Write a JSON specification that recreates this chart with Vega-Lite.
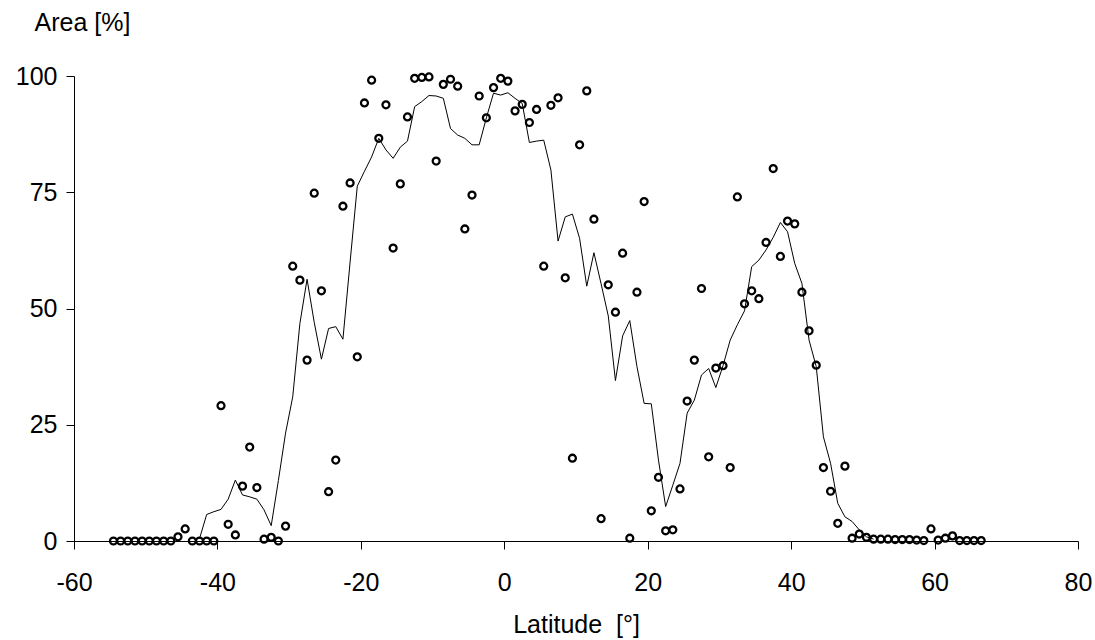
{
  "$schema": "https://vega.github.io/schema/vega-lite/v6.json",
  "width": 1004,
  "height": 465,
  "autosize": {"type": "none"},
  "padding": {"left": 74, "top": 76, "right": 17, "bottom": 99},
  "background": "white",
  "config": {
    "view": {"stroke": null},
    "font": "Liberation Sans",
    "axis": {"grid": false, "domainColor": "black", "tickColor": "black", "domainWidth": 1, "tickWidth": 1, "tickSize": 8, "labelFontSize": 25, "labelColor": "black", "titleFontSize": 25, "titleFontWeight": "normal", "titleColor": "black", "labelFont": "Liberation Sans", "titleFont": "Liberation Sans"}
  },
  "datasets": {
    "pts": [
      {"lat": -54.5, "area": 0}, {"lat": -53.5, "area": 0}, {"lat": -52.5, "area": 0}, {"lat": -51.5, "area": 0},
      {"lat": -50.5, "area": 0}, {"lat": -49.5, "area": 0}, {"lat": -48.5, "area": 0}, {"lat": -47.5, "area": 0},
      {"lat": -46.5, "area": 0}, {"lat": -45.5, "area": 0.9}, {"lat": -44.5, "area": 2.6}, {"lat": -43.5, "area": 0},
      {"lat": -42.5, "area": 0}, {"lat": -41.5, "area": 0}, {"lat": -40.5, "area": 0}, {"lat": -39.5, "area": 29.1},
      {"lat": -38.5, "area": 3.6}, {"lat": -37.5, "area": 1.3}, {"lat": -36.5, "area": 11.8}, {"lat": -35.5, "area": 20.2},
      {"lat": -34.5, "area": 11.5}, {"lat": -33.5, "area": 0.4}, {"lat": -32.5, "area": 0.8}, {"lat": -31.5, "area": 0},
      {"lat": -30.5, "area": 3.2}, {"lat": -29.5, "area": 59.1}, {"lat": -28.5, "area": 56.1}, {"lat": -27.5, "area": 38.9},
      {"lat": -26.5, "area": 74.8}, {"lat": -25.5, "area": 53.8}, {"lat": -24.5, "area": 10.6}, {"lat": -23.5, "area": 17.4},
      {"lat": -22.5, "area": 72.0}, {"lat": -21.5, "area": 77.0}, {"lat": -20.5, "area": 39.6}, {"lat": -19.5, "area": 94.2},
      {"lat": -18.5, "area": 99.1}, {"lat": -17.5, "area": 86.6}, {"lat": -16.5, "area": 93.8}, {"lat": -15.5, "area": 63.0},
      {"lat": -14.5, "area": 76.8}, {"lat": -13.5, "area": 91.2}, {"lat": -12.5, "area": 99.5}, {"lat": -11.5, "area": 99.7},
      {"lat": -10.5, "area": 99.8}, {"lat": -9.5, "area": 81.7}, {"lat": -8.5, "area": 98.2}, {"lat": -7.5, "area": 99.3},
      {"lat": -6.5, "area": 97.8}, {"lat": -5.5, "area": 67.1}, {"lat": -4.5, "area": 74.4}, {"lat": -3.5, "area": 95.7},
      {"lat": -2.5, "area": 91.0}, {"lat": -1.5, "area": 97.5}, {"lat": -0.5, "area": 99.5}, {"lat": 0.5, "area": 98.9},
      {"lat": 1.5, "area": 92.5}, {"lat": 2.5, "area": 93.9}, {"lat": 3.5, "area": 90.0}, {"lat": 4.5, "area": 92.8},
      {"lat": 5.5, "area": 59.1}, {"lat": 6.5, "area": 93.7}, {"lat": 7.5, "area": 95.3}, {"lat": 8.5, "area": 56.6},
      {"lat": 9.5, "area": 17.8}, {"lat": 10.5, "area": 85.2}, {"lat": 11.5, "area": 96.8}, {"lat": 12.5, "area": 69.2},
      {"lat": 13.5, "area": 4.8}, {"lat": 14.5, "area": 55.1}, {"lat": 15.5, "area": 49.2}, {"lat": 16.5, "area": 61.9},
      {"lat": 17.5, "area": 0.6}, {"lat": 18.5, "area": 53.5}, {"lat": 19.5, "area": 73.0}, {"lat": 20.5, "area": 6.5},
      {"lat": 21.5, "area": 13.7}, {"lat": 22.5, "area": 2.2}, {"lat": 23.5, "area": 2.4}, {"lat": 24.5, "area": 11.2},
      {"lat": 25.5, "area": 30.1}, {"lat": 26.5, "area": 38.9}, {"lat": 27.5, "area": 54.3}, {"lat": 28.5, "area": 18.1},
      {"lat": 29.5, "area": 37.2}, {"lat": 30.5, "area": 37.7}, {"lat": 31.5, "area": 15.8}, {"lat": 32.5, "area": 74.0},
      {"lat": 33.5, "area": 51.0}, {"lat": 34.5, "area": 53.8}, {"lat": 35.5, "area": 52.1}, {"lat": 36.5, "area": 64.2},
      {"lat": 37.5, "area": 80.1}, {"lat": 38.5, "area": 61.2}, {"lat": 39.5, "area": 68.8}, {"lat": 40.5, "area": 68.2},
      {"lat": 41.5, "area": 53.5}, {"lat": 42.5, "area": 45.2}, {"lat": 43.5, "area": 37.8}, {"lat": 44.5, "area": 15.8},
      {"lat": 45.5, "area": 10.7}, {"lat": 46.5, "area": 3.8}, {"lat": 47.5, "area": 16.1}, {"lat": 48.5, "area": 0.6},
      {"lat": 49.5, "area": 1.5}, {"lat": 50.5, "area": 0.8}, {"lat": 51.5, "area": 0.4}, {"lat": 52.5, "area": 0.4},
      {"lat": 53.5, "area": 0.4}, {"lat": 54.5, "area": 0.3}, {"lat": 55.5, "area": 0.3}, {"lat": 56.5, "area": 0.3},
      {"lat": 57.5, "area": 0.2}, {"lat": 58.5, "area": 0.1}, {"lat": 59.5, "area": 2.6}, {"lat": 60.5, "area": 0.2},
      {"lat": 61.5, "area": 0.6}, {"lat": 62.5, "area": 1.1}, {"lat": 63.5, "area": 0.1}, {"lat": 64.5, "area": 0.1},
      {"lat": 65.5, "area": 0.1}, {"lat": 66.5, "area": 0.1}
    ],
    "smooth": [
      {"lat": -42.5, "area": 0.5}, {"lat": -41.5, "area": 5.7}, {"lat": -40.5, "area": 6.3}, {"lat": -39.5, "area": 6.8},
      {"lat": -38.5, "area": 9.0}, {"lat": -37.5, "area": 13.1}, {"lat": -36.5, "area": 9.9}, {"lat": -35.5, "area": 9.5},
      {"lat": -34.5, "area": 9.0}, {"lat": -33.5, "area": 6.7}, {"lat": -32.5, "area": 3.3}, {"lat": -31.5, "area": 13.0},
      {"lat": -30.5, "area": 23.2}, {"lat": -29.5, "area": 31.0}, {"lat": -28.5, "area": 46.8}, {"lat": -27.5, "area": 56.3},
      {"lat": -26.5, "area": 47.0}, {"lat": -25.5, "area": 39.1}, {"lat": -24.5, "area": 45.7}, {"lat": -23.5, "area": 46.1},
      {"lat": -22.5, "area": 43.4}, {"lat": -21.5, "area": 60.0}, {"lat": -20.5, "area": 76.3}, {"lat": -19.5, "area": 79.5},
      {"lat": -18.5, "area": 82.6}, {"lat": -17.5, "area": 86.6}, {"lat": -16.5, "area": 84.1}, {"lat": -15.5, "area": 82.3},
      {"lat": -14.5, "area": 84.7}, {"lat": -13.5, "area": 86.0}, {"lat": -12.5, "area": 93.4}, {"lat": -11.5, "area": 94.5},
      {"lat": -10.5, "area": 95.8}, {"lat": -9.5, "area": 95.7}, {"lat": -8.5, "area": 95.2}, {"lat": -7.5, "area": 88.7},
      {"lat": -6.5, "area": 87.3}, {"lat": -5.5, "area": 86.6}, {"lat": -4.5, "area": 85.2}, {"lat": -3.5, "area": 85.2},
      {"lat": -2.5, "area": 91.0}, {"lat": -1.5, "area": 96.3}, {"lat": -0.5, "area": 95.9}, {"lat": 0.5, "area": 96.4},
      {"lat": 1.5, "area": 95.2}, {"lat": 2.5, "area": 94.1}, {"lat": 3.5, "area": 85.7}, {"lat": 4.5, "area": 86.0},
      {"lat": 5.5, "area": 86.2}, {"lat": 6.5, "area": 79.8}, {"lat": 7.5, "area": 64.5}, {"lat": 8.5, "area": 69.7},
      {"lat": 9.5, "area": 70.3}, {"lat": 10.5, "area": 65.1}, {"lat": 11.5, "area": 54.8}, {"lat": 12.5, "area": 62.0},
      {"lat": 13.5, "area": 55.3}, {"lat": 14.5, "area": 48.4}, {"lat": 15.5, "area": 34.5}, {"lat": 16.5, "area": 44.1},
      {"lat": 17.5, "area": 47.4}, {"lat": 18.5, "area": 37.5}, {"lat": 19.5, "area": 29.6}, {"lat": 20.5, "area": 29.5},
      {"lat": 21.5, "area": 17.4}, {"lat": 22.5, "area": 7.4}, {"lat": 23.5, "area": 12.0}, {"lat": 24.5, "area": 16.7},
      {"lat": 25.5, "area": 27.5}, {"lat": 26.5, "area": 30.3}, {"lat": 27.5, "area": 35.7}, {"lat": 28.5, "area": 37.1},
      {"lat": 29.5, "area": 33.0}, {"lat": 30.5, "area": 37.7}, {"lat": 31.5, "area": 43.2}, {"lat": 32.5, "area": 46.5},
      {"lat": 33.5, "area": 49.5}, {"lat": 34.5, "area": 59.0}, {"lat": 35.5, "area": 60.4}, {"lat": 36.5, "area": 62.6},
      {"lat": 37.5, "area": 65.3}, {"lat": 38.5, "area": 68.5}, {"lat": 39.5, "area": 66.5}, {"lat": 40.5, "area": 59.7},
      {"lat": 41.5, "area": 55.4}, {"lat": 42.5, "area": 43.2}, {"lat": 43.5, "area": 37.5}, {"lat": 44.5, "area": 22.4},
      {"lat": 45.5, "area": 16.7}, {"lat": 46.5, "area": 8.1}, {"lat": 47.5, "area": 5.2}, {"lat": 48.5, "area": 4.2},
      {"lat": 49.5, "area": 2.4}, {"lat": 50.5, "area": 0.9}, {"lat": 51.5, "area": 0.4}
    ]
  },
  "layer": [
    {
      "data": {"name": "smooth"},
      "mark": {"type": "line", "color": "black", "strokeWidth": 1},
      "encoding": {
        "x": {"field": "lat", "type": "quantitative", "scale": {"domain": [-60, 80], "nice": false},
          "axis": {"values": [-60, -40, -20, 0, 20, 40, 60, 80], "labelExpr": "'' + datum.value", "title": "Latitude\u00a0\u00a0[°]", "labelPadding": 21, "titleY": 91, "titleBaseline": "alphabetic", "labelFlush": false}},
        "y": {"field": "area", "type": "quantitative", "scale": {"domain": [0, 100], "nice": false},
          "axis": {"values": [0, 25, 50, 75, 100], "title": "Area [%]", "titleAngle": 0, "titleAlign": "left", "titleBaseline": "middle", "titleX": -40, "titleY": -54, "labelPadding": 9}}
      }
    },
    {
      "data": {"name": "pts"},
      "mark": {"type": "point", "shape": "circle", "filled": false, "stroke": "black", "strokeWidth": 2.3, "size": 48, "opacity": 1},
      "encoding": {
        "x": {"field": "lat", "type": "quantitative"},
        "y": {"field": "area", "type": "quantitative"}
      }
    }
  ]
}
